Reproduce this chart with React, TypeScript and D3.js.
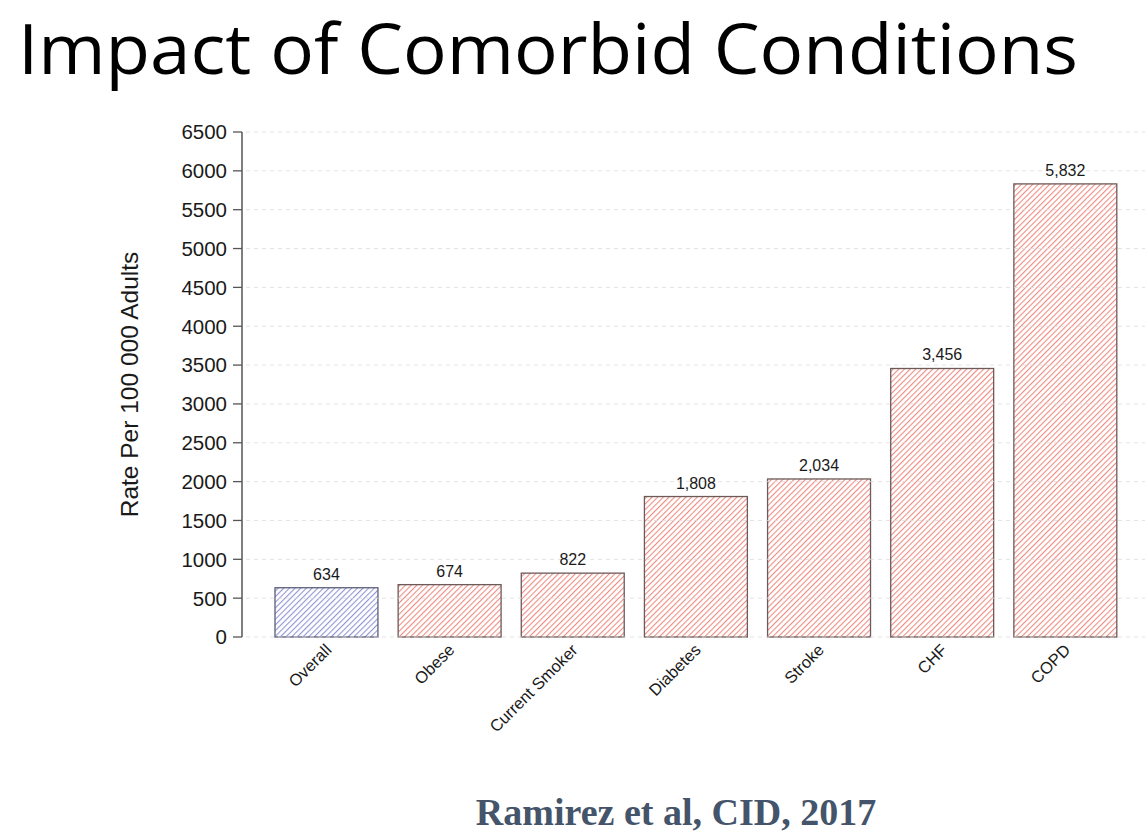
import React from "react";
import * as d3 from "d3";

const categories = ["Overall", "Obese", "Current Smoker", "Diabetes", "Stroke", "CHF", "COPD"];
const values = [634, 674, 822, 1808, 2034, 3456, 5832];
const yTicks = [0, 500, 1000, 1500, 2000, 2500, 3000, 3500, 4000, 4500, 5000, 5500, 6000, 6500];

const W = 1145;
const H = 834;

export default function App() {
  const x = d3.scaleBand<string>().domain(categories).range([254.8, 1137]).paddingInner(0.164).paddingOuter(0.164);
  const y = d3.scaleLinear().domain([0, 6500]).range([637, 132]);
  const fmt = d3.format(",");
  const axisX = 242;
  const sans = "'Liberation Sans', Arial, sans-serif";
  return (
    <div style={{ position: "absolute", left: 0, top: 0 }}>
      <svg width={W} height={H} style={{ display: "block", background: "#fff" }}>
        <defs>
          <pattern id="hatchRed" patternUnits="userSpaceOnUse" width="4" height="4" patternTransform="rotate(45)">
            <rect width="4" height="4" fill="#fff" />
            <line x1="0" y1="0" x2="0" y2="4" stroke="#ec8e84" strokeWidth="2.2" />
          </pattern>
          <pattern id="hatchBlue" patternUnits="userSpaceOnUse" width="4" height="4" patternTransform="rotate(45)">
            <rect width="4" height="4" fill="#fff" />
            <line x1="0" y1="0" x2="0" y2="4" stroke="#9096d4" strokeWidth="2.2" />
          </pattern>
        </defs>
        <text x={18} y={74} fontFamily="'Open Sans', sans-serif" fontSize={70} fill="#000" textLength={1060} lengthAdjust="spacingAndGlyphs">
          Impact of Comorbid Conditions
        </text>
        {/* bars */}
        {categories.map((c, i) => (
          <rect
            key={c}
            x={x(c)}
            y={y(values[i])}
            width={x.bandwidth()}
            height={y(0) - y(values[i])}
            fill={i === 0 ? "url(#hatchBlue)" : "url(#hatchRed)"}
            stroke={i === 0 ? "#5c5f7a" : "#6e5a58"}
            strokeWidth={1.3}
          />
        ))}
        {/* gridlines */}
        {yTicks.map((t) => (
          <line key={"g" + t} x1={axisX + 4} x2={W} y1={y(t)} y2={y(t)} stroke="#dcdcdc" strokeOpacity={0.8} strokeWidth={1} strokeDasharray="4,4" />
        ))}
        {/* axis */}
        <line x1={axisX} x2={axisX} y1={y(6500)} y2={y(0)} stroke="#555" strokeWidth={1.5} />
        {yTicks.map((t) => (
          <g key={"t" + t}>
            <line x1={axisX - 9} x2={axisX} y1={y(t)} y2={y(t)} stroke="#555" strokeWidth={1.3} />
            <text x={axisX - 15} y={y(t)} dy="0.36em" textAnchor="end" fontFamily={sans} fontSize={20.5} fill="#1a1a1a">
              {t}
            </text>
          </g>
        ))}
        <text
          transform={`translate(138,${(y(0) + y(6500)) / 2}) rotate(-90)`}
          textAnchor="middle"
          fontFamily={sans}
          fontSize={24.5}
          fill="#1a1a1a"
        >
          Rate Per 100 000 Adults
        </text>
        {/* value labels */}
        {categories.map((c, i) => (
          <text key={"v" + c} x={(x(c) as number) + x.bandwidth() / 2} y={y(values[i]) - 8} textAnchor="middle" fontFamily={sans} fontSize={16} fill="#1a1a1a">
            {fmt(values[i])}
          </text>
        ))}
        {/* x labels */}
        {categories.map((c) => {
          const cx = (x(c) as number) + x.bandwidth() / 2 + 6;
          return (
            <text key={"x" + c} transform={`translate(${cx},${651}) rotate(-45)`} textAnchor="end" fontFamily={sans} fontSize={16.5} fill="#1a1a1a">
              {c}
            </text>
          );
        })}
        <text x={676} y={825} textAnchor="middle" fontFamily="'Liberation Serif', 'Times New Roman', serif" fontWeight="bold" fontSize={38} fill="#44546a">
          Ramirez et al, CID, 2017
        </text>
      </svg>
    </div>
  );
}
